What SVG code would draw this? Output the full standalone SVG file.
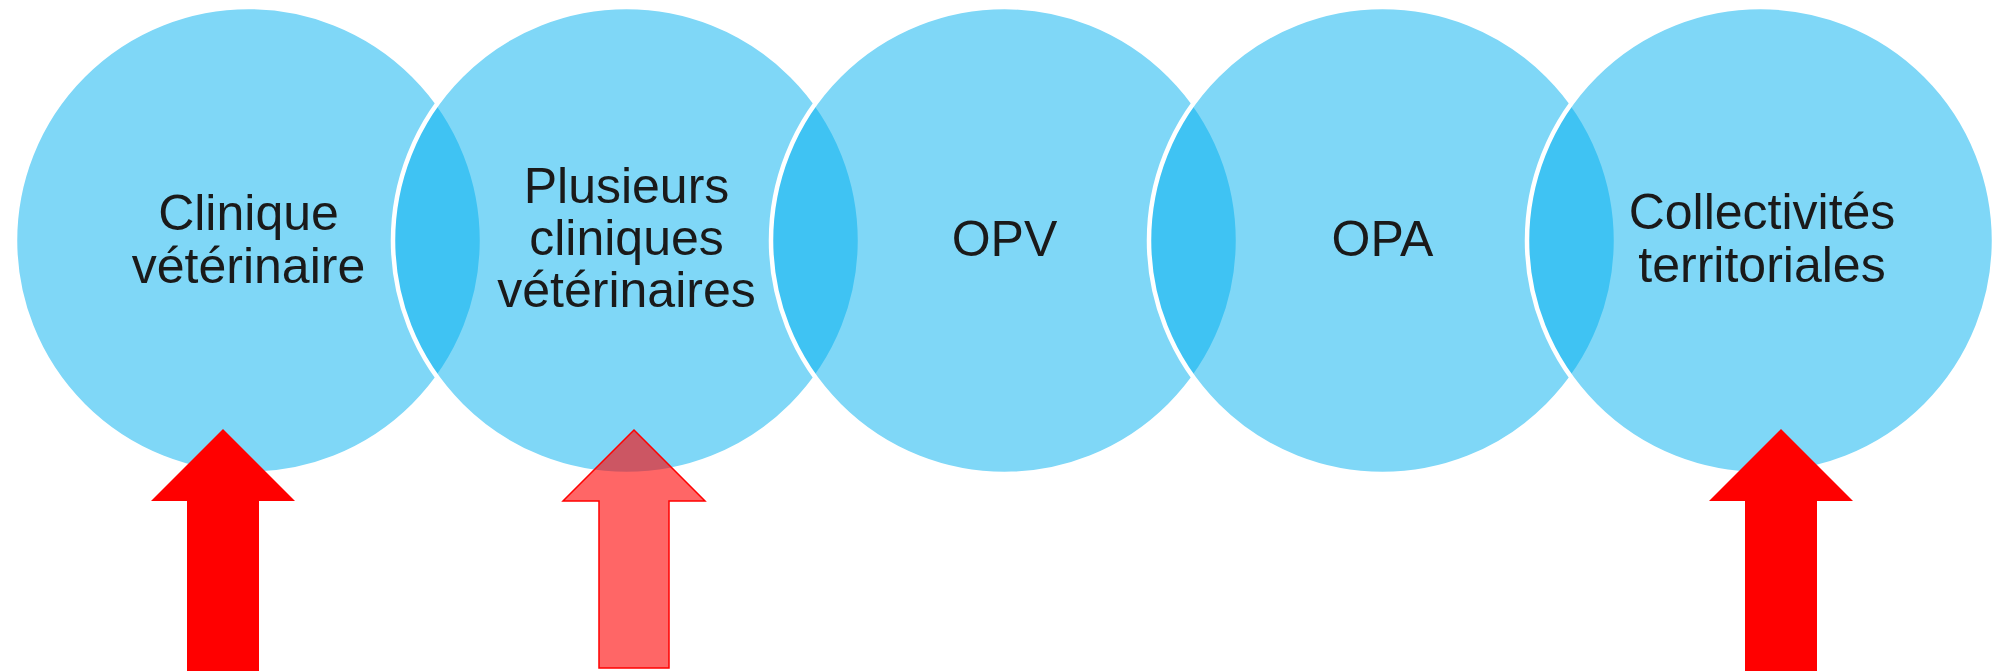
<svg xmlns="http://www.w3.org/2000/svg" width="1995" height="671" viewBox="0 0 1995 671">
<style>
.c{fill:#00B0F0;fill-opacity:0.5;stroke:#FFFFFF;stroke-width:4.5}
.t{font-family:"Liberation Sans",Arial,sans-serif;font-size:50px;fill:#1A1A1A;text-anchor:middle}
.a{fill:#FF0000}
.a2{fill:#FF0000;fill-opacity:0.6;stroke:#FF0000;stroke-width:1.5}
</style>
<rect width="1995" height="671" fill="#FFFFFF"/>
<g id="node1">
<circle class="c" cx="248.5" cy="240.5" r="233.5"/>
</g>
<g id="node2">
<circle class="c" cx="626.5" cy="240.5" r="233.5"/>
</g>
<g id="node3">
<circle class="c" cx="1004.5" cy="240.5" r="233.5"/>
</g>
<g id="node4">
<circle class="c" cx="1382.5" cy="240.5" r="233.5"/>
</g>
<g id="node5">
<circle class="c" cx="1760.5" cy="240.5" r="233.5"/>
</g>
<g id="labels">
<text class="t" x="248.5" y="230">Clinique</text>
<text class="t" x="248.5" y="283">vétérinaire</text>
<text class="t" x="626.5" y="203">Plusieurs</text>
<text class="t" x="626.5" y="255">cliniques</text>
<text class="t" x="626.5" y="307">vétérinaires</text>
<text class="t" x="1004.5" y="256">OPV</text>
<text class="t" x="1382.5" y="256">OPA</text>
<text class="t" x="1762" y="229">Collectivités</text>
<text class="t" x="1762" y="282">territoriales</text>
</g>
<g id="connectors">
<polygon class="a" points="223,429 295,501 259,501 259,672 187,672 187,501 151,501"/>
<polygon class="a2" points="634,430 705,501 669,501 669,668 599,668 599,501 563,501"/>
<polygon class="a" points="1781,429 1853,501 1817,501 1817,672 1745,672 1745,501 1709,501"/>
</g>
</svg>
